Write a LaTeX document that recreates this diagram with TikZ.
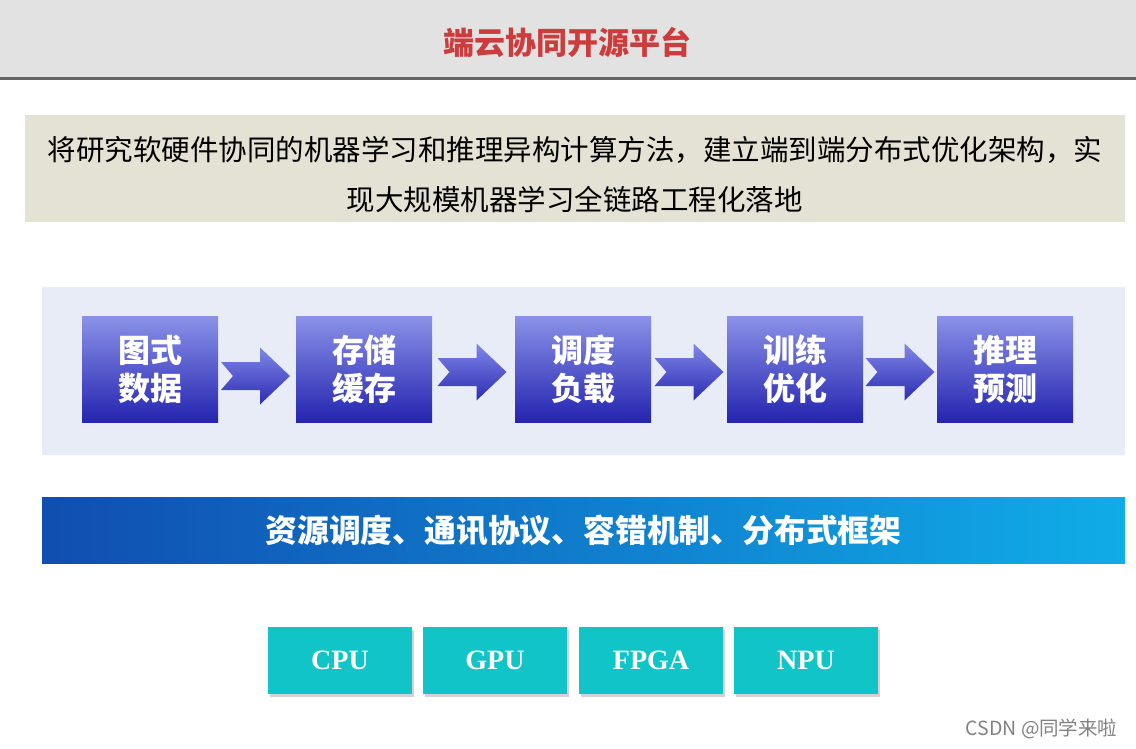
\documentclass[tikz,border=0pt]{standalone}
\usepackage{fontspec}
\setmainfont{Noto Sans CJK SC}
\newfontfamily\serifbf{Liberation Serif}
\usetikzlibrary{shadows,calc}
\definecolor{hdr}{RGB}{226,226,226}
\definecolor{hdrline}{RGB}{100,100,100}
\definecolor{titlered}{RGB}{205,60,60}
\definecolor{beige}{RGB}{228,226,212}
\definecolor{panel}{RGB}{232,236,246}
\definecolor{boxtop}{RGB}{138,146,232}
\definecolor{boxbot}{RGB}{36,36,176}
\definecolor{arrtop}{RGB}{128,136,230}
\definecolor{arrbot}{RGB}{44,44,180}
\definecolor{bardark}{RGB}{16,78,176}
\definecolor{barlight}{RGB}{16,172,232}
\definecolor{teal}{RGB}{16,196,200}
\definecolor{wm}{RGB}{130,130,130}
\tikzset{
  stepbox/.style={rectangle, minimum width=136pt, minimum height=106pt, inner sep=0pt,
    top color=boxtop, bottom color=boxbot, text=white, align=center,
    font=\fontsize{32}{38}\selectfont\bfseries},
  flowarrow/.style={top color=arrtop, bottom color=arrbot},
  hwbox/.style={rectangle, minimum width=144pt, minimum height=67pt, inner sep=0pt,
    fill=teal, text=white, font=\serifbf\fontsize{28}{32}\selectfont\bfseries,
    drop shadow={opacity=0.35, shadow xshift=2pt, shadow yshift=-3pt}}
}
\newcommand\farrow[3]{%
  \coordinate (#1) at (#2,#3);
  \shade[flowarrow] ($(#1)+(-34,-14)$) -- ($(#1)+(5,-14)$) -- ($(#1)+(5,-28.5)$)
    -- ($(#1)+(35,0)$) -- ($(#1)+(5,28.5)$) -- ($(#1)+(5,14)$)
    -- ($(#1)+(-34,14)$) -- ($(#1)+(-22,0)$) -- cycle;}
\begin{document}
\begin{tikzpicture}[x=1pt,y=-1pt]
\useasboundingbox (0,0) rectangle (1136,748);
\fill[white] (0,0) rectangle (1136,748);
% header
\fill[hdr] (0,0) rectangle (1136,78);
\fill[hdrline] (0,77) rectangle (1136,80);
\node[text=titlered, font=\fontsize{31}{34}\selectfont\bfseries] (title) at (567,42) {端云协同开源平台};
% description
\fill[beige] (25,115) rectangle (1125,222);
\node[align=center, font=\fontsize{28.5}{50}\selectfont, text=black] (desc) at (575,175)
  {将研究软硬件协同的机器学习和推理异构计算方法，建立端到端分布式优化架构，实\\现大规模机器学习全链路工程化落地};
% flow panel
\fill[panel] (42,287) rectangle (1125,455);
\node[stepbox] (s1) at (150,369) {图式\\数据};
\node[stepbox] (s2) at (364,369) {存储\\缓存};
\node[stepbox] (s3) at (583,369) {调度\\负载};
\node[stepbox] (s4) at (795,369) {训练\\优化};
\node[stepbox] (s5) at (1005,369) {推理\\预测};
\farrow{a1}{255}{376}
\farrow{a2}{471.5}{372}
\farrow{a3}{688.5}{372}
\farrow{a4}{899.5}{372}
% bar
\node[rectangle, minimum width=1083pt, minimum height=66pt, inner sep=0pt,
  left color=bardark, right color=barlight, text=white,
  font=\fontsize{31.8}{36}\selectfont\bfseries] (bar) at (583.5,530)
  {资源调度、通讯协议、容错机制、分布式框架};
% hardware
\node[hwbox] (cpu) at (340,660.5) {CPU};
\node[hwbox] (gpu) at (495,660.5) {GPU};
\node[hwbox] (fpga) at (651,660.5) {FPGA};
\node[hwbox] (npu) at (806,660.5) {NPU};
% watermark
\node[text=wm, font=\fontsize{19.5}{22}\selectfont, anchor=east] (wmk) at (1121,729) {CSDN @同学来啦};
\end{tikzpicture}
\end{document}
